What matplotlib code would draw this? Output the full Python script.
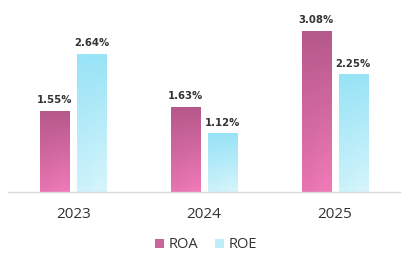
import matplotlib
matplotlib.use("Agg")
import matplotlib.pyplot as plt
from matplotlib.colors import LinearSegmentedColormap
from matplotlib.patches import Patch
import numpy as np

years = ["2023", "2024", "2025"]
roa = [1.55, 1.63, 3.08]
roe = [2.64, 1.12, 2.25]

roa_cmap = LinearSegmentedColormap.from_list("roa", ["#b5588a", "#f07ab8"])
roe_cmap = LinearSegmentedColormap.from_list("roe", ["#98e3f6", "#d6f5fb"])

fig = plt.figure(figsize=(4.09, 2.61), dpi=100)
ax = fig.add_axes([8 / 409, 1 - 192 / 261, 392 / 409, 172 / 261])

x = np.arange(len(years))
w = 0.222
off = 0.142


def gradient_bars(bars, cmap):
    # fill each bar with a vertical gradient (dark at top)
    grad = np.linspace(0, 1, 100).reshape(-1, 1)
    grad = np.hstack([grad * 0.85, grad])
    for b in bars:
        x0, y0 = b.get_x(), b.get_y()
        bw, bh = b.get_width(), b.get_height()
        im = ax.imshow(grad, cmap=cmap, aspect="auto", origin="upper",
                       extent=(x0, x0 + bw, y0, y0 + bh), zorder=2,
                       interpolation="bilinear")
        im.set_clip_path(b)
        b.set_facecolor("none")


b1 = ax.bar(x - off, roa, w, edgecolor="none")
b2 = ax.bar(x + off, roe, w, edgecolor="none")
gradient_bars(b1, roa_cmap)
gradient_bars(b2, roe_cmap)

for bars, vals in ((b1, roa), (b2, roe)):
    for b, v in zip(bars, vals):
        ax.annotate(f"{v:.2f}%", (b.get_x() + b.get_width() / 2, v),
                    xytext=(0, 4), textcoords="offset points",
                    ha="center", va="bottom", fontsize=7.3, fontweight="bold",
                    color="#333333")

ax.set_xlim(-0.5, 2.5)
ax.set_ylim(0, 3.29)
ax.set_xticks(x)
ax.set_xticklabels(years, fontsize=11, color="#333333", family="Open Sans")
ax.tick_params(axis="x", length=0, pad=11)
ax.set_yticks([])
for s in ("top", "right", "left"):
    ax.spines[s].set_visible(False)
ax.spines["bottom"].set_color("#d9d9d9")
ax.spines["bottom"].set_linewidth(1)

handles = [Patch(facecolor="#c8669b", label="ROA"),
           Patch(facecolor="#bfeef9", label="ROE")]
fig.legend(handles=handles, loc="center", bbox_to_anchor=(206 / 409, 1 - 245 / 261),
           ncol=2, frameon=False, prop={"family": "Open Sans", "size": 10.5},
           handlelength=0.6, handleheight=0.6,
           handletextpad=0.3, columnspacing=1.2, labelcolor="#333333")

fig.savefig("out.png", dpi=100, facecolor="white")
